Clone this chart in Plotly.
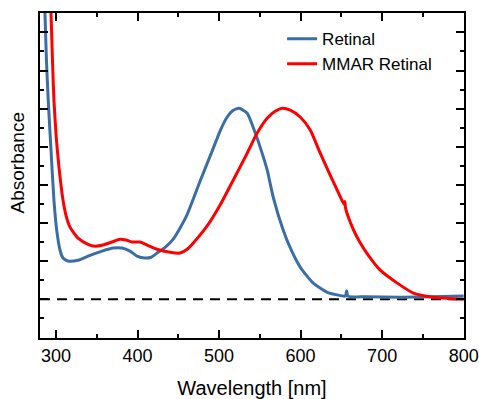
import plotly.graph_objects as go

# Absorption spectra (absorbance, baseline-corrected)
retinal_nm = [285.3, 286.5, 288.3, 290.5, 293.9, 297.5, 300.9, 304.9, 308.6, 314.7, 327, 341.7,
              356.5, 370, 381, 390.8, 399.4, 409.3, 416.6, 424, 433.8, 443.6, 452.2, 460.8,
              476.8, 492.7, 502, 510, 517, 524.6, 534.5, 541.8, 550.4, 559, 566.4, 578.7, 588.5,
              599.5, 615.5, 632.7, 652.3, 655, 656.5, 658, 680, 722.3, 760, 800]
retinal_abs = [0.811, 0.751, 0.627, 0.522, 0.391, 0.260, 0.181, 0.129, 0.108, 0.100, 0.102, 0.115,
               0.126, 0.134, 0.134, 0.126, 0.113, 0.108, 0.110, 0.121, 0.136, 0.157, 0.187, 0.222,
               0.310, 0.395, 0.445, 0.478, 0.495, 0.501, 0.488, 0.451, 0.399, 0.339, 0.268, 0.181, 0.129,
               0.084, 0.042, 0.018, 0.008, 0.008, 0.022, 0.008, 0.006, 0.005, 0.006, 0.008]

mmar_nm = [292.6, 293.9, 295.7, 297.5, 300.6, 303.7, 308.6, 312.3, 317.2, 327, 339.3, 347.9,
           357.7, 368.7, 378.6, 385.9, 393.3, 403.1, 411.7, 424, 439.9, 452.2, 460.8, 468.2,
           485.4, 501.3, 517.3, 534.5, 546.7, 559, 568.8, 577.4, 587.3, 599.5, 611.8, 624.1,
           636.4, 646.2, 653.5, 654.3, 655.2, 664.6, 672, 681.8, 697.7, 718.6, 738.3, 762.8, 780, 800]
mmar_abs = [0.811, 0.751, 0.627, 0.522, 0.417, 0.346, 0.260, 0.220, 0.189, 0.160, 0.144, 0.139,
            0.142, 0.150, 0.157, 0.155, 0.150, 0.150, 0.142, 0.131, 0.123, 0.121, 0.131, 0.147,
            0.192, 0.247, 0.312, 0.383, 0.436, 0.475, 0.493, 0.501, 0.496, 0.478, 0.444, 0.383,
            0.325, 0.280, 0.248, 0.256, 0.238, 0.183, 0.152, 0.119, 0.076, 0.042, 0.016, 0.005, 0.002, 0.0]

x_ticks = [300, 400, 500, 600, 700, 800]

FONT = "Liberation Sans, Arial, sans-serif"

fig = go.Figure()
fig.add_trace(go.Scatter(x=retinal_nm, y=retinal_abs, mode="lines", name="Retinal",
                         line=dict(color="#3b6ea5", width=3, shape="spline", smoothing=0.6)))
fig.add_trace(go.Scatter(x=mmar_nm, y=mmar_abs, mode="lines", name="MMAR Retinal",
                         line=dict(color="#ff0000", width=3, shape="spline", smoothing=0.6)))

# zero-absorbance baseline
fig.add_shape(type="line", xref="paper", yref="y", x0=0, x1=1, y0=0, y1=0,
              line=dict(color="black", width=2, dash="10px,7px"), layer="below")

axis_common = dict(showline=True, linecolor="black", linewidth=2, mirror="allticks",
                   ticks="inside", ticklen=8, tickwidth=1.5, tickcolor="black",
                   showgrid=False, zeroline=False, automargin=False)

fig.update_xaxes(range=[280.4, 800.4], tickvals=x_ticks, ticktext=[str(v) for v in x_ticks],
                 minor=dict(dtick=50, tick0=0, ticks="inside", ticklen=4, tickwidth=1.5,
                            tickcolor="black", showgrid=False),
                 tickfont=dict(family=FONT, size=18, color="black"),
                 title=dict(text="Wavelength [nm]", font=dict(family=FONT, size=20, color="black"),
                            standoff=18),
                 **axis_common)
fig.update_yaxes(range=[-0.102, 0.751], dtick=0.1, tick0=0, showticklabels=False,
                 minor=dict(dtick=0.05, tick0=0, ticks="inside", ticklen=4, tickwidth=1.5,
                            tickcolor="black", showgrid=False),
                 **axis_common)

# y-axis title placed slightly above the axis centre
fig.add_annotation(text="Absorbance", textangle=-90, xref="paper", yref="paper",
                   x=-0.052, y=0.54, xanchor="center", yanchor="middle", showarrow=False,
                   font=dict(family=FONT, size=19, color="black"))

fig.update_layout(
    width=479, height=399,
    margin=dict(l=40, r=15, t=13, b=61, autoexpand=False),
    paper_bgcolor="white", plot_bgcolor="white",
    showlegend=True,
    legend=dict(x=0.571, y=0.975, xanchor="left", yanchor="top",
                bgcolor="rgba(0,0,0,0)", borderwidth=0,
                font=dict(family=FONT, size=17, color="black"),
                tracegroupgap=0, itemwidth=30),
)

fig.write_html("out.html")
